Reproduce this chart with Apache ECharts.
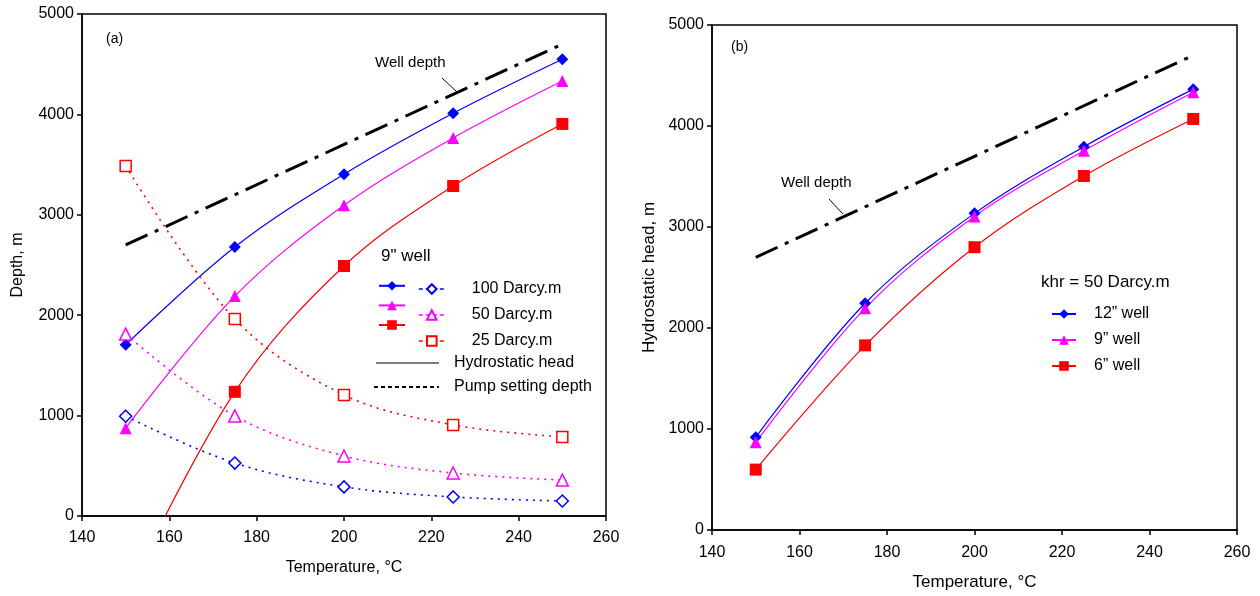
<!DOCTYPE html>
<html>
<head>
<meta charset="utf-8">
<script src="https://cdn.jsdelivr.net/npm/echarts@6/dist/echarts.min.js"></script>
<style>
    html, body {margin: 0; padding: 0; background: #fff;}
    #chart {width: 1260px; height: 596px;}
</style>
</head>
<body>
<div id="chart"></div>
<script>
// temperatures (°C) at which the points were computed
var temps = [150, 175, 200, 225, 250];
var wellTemps = [150, 250];

// panel (a): 9" well, hydrostatic head (solid) and pump setting depth (dotted)
var head100 = [1705, 2680, 3405, 4012, 4550];
var head50 = [875, 2190, 3095, 3765, 4332];
var head25 = [-800, 1237, 2490, 3287, 3905];
var pump100 = [993, 527, 290, 190, 150];
var pump50 = [1812, 997, 598, 428, 358];
var pump25 = [3486, 1962, 1206, 907, 788];
var wellDepthA = [2700, 4700];

// panel (b): khr = 50 Darcy.m, hydrostatic head per well size
var head12in = [918, 2245, 3135, 3795, 4365];
var head9in = [868, 2195, 3105, 3755, 4335];
var head6in = [598, 1828, 2800, 3505, 4070];
var wellDepthB = [2700, 4700];

var xTicks = {min: 140, max: 260, interval: 20};
var yTicks = {min: 0, max: 5000, interval: 1000};

var FONT = 'Liberation Sans';
var BLUE = '#0000ff', MAGENTA = '#ff00ff', RED = '#ff0000';
var DIAMOND = 'path://M0,-1L1,0L0,1L-1,0Z';

function pairs(xs, ys) {
    var out = [];
    for (var i = 0; i < xs.length; i++) {
        out.push([xs[i], ys[i]]);
    }
    return out;
}

function plain(v) {
    return String(v);
}

function xAxis(idx, fs, nameFs, margin) {
    return {
        type: 'value', gridIndex: idx,
        min: xTicks.min, max: xTicks.max, interval: xTicks.interval,
        name: 'Temperature, °C', nameLocation: 'middle', nameGap: 44,
        nameTextStyle: {fontFamily: FONT, fontSize: nameFs, color: '#000'},
        axisLine: {onZero: false, lineStyle: {color: '#000', width: 1.5}},
        axisTick: {inside: false, length: 5, lineStyle: {color: '#000', width: 1.5}},
        axisLabel: {fontFamily: FONT, fontSize: fs, color: '#000', margin: margin, formatter: plain},
        splitLine: {show: false}
    };
}

function yAxis(idx, name, fs, nameFs, gap) {
    return {
        type: 'value', gridIndex: idx,
        min: yTicks.min, max: yTicks.max, interval: yTicks.interval,
        name: name, nameLocation: 'middle', nameGap: gap,
        nameTextStyle: {fontFamily: FONT, fontSize: nameFs, color: '#000'},
        axisLine: {onZero: false, lineStyle: {color: '#000', width: 1.5}},
        axisTick: {inside: false, length: 5, lineStyle: {color: '#000', width: 1.5}},
        axisLabel: {fontFamily: FONT, fontSize: fs, color: '#000', margin: 8, formatter: plain},
        splitLine: {show: false}
    };
}

//实线 / 点线 series
function curve(name, idx, xs, ys, color, symbol, size, dotted) {
    return {
        name: name, type: 'line', xAxisIndex: idx, yAxisIndex: idx,
        data: pairs(xs, ys), smooth: 0.35, clip: true,
        symbol: symbol, symbolSize: size, showAllSymbol: true,
        lineStyle: {color: color, width: dotted ? 1.6 : 1.2, type: dotted ? [2, 5] : 'solid'},
        itemStyle: {color: dotted ? '#fff' : color, borderColor: color, borderWidth: dotted ? 1.5 : 0},
        emphasis: {disabled: true},
        z: 3
    };
}

function wellLine(idx, ys) {
    return {
        name: 'well' + idx, type: 'line', xAxisIndex: idx, yAxisIndex: idx,
        data: pairs(wellTemps, ys), symbol: 'none',
        lineStyle: {color: '#000', width: 3, type: [24, 8, 4, 8]},
        emphasis: {disabled: true},
        z: 2
    };
}

var labelMap = {
    p100: '100 Darcy.m', p50: '50 Darcy.m', p25: '25 Darcy.m',
    b12: '12” well', b9: '9” well', b6: '6” well'
};

var chart = echarts.init(document.getElementById('chart'));

var option = {
    animation: false,
    grid: [
        {left: 82, top: 14, right: 654, bottom: 80, show: true, borderColor: '#000', borderWidth: 1.5},
        {left: 712, top: 25, right: 23, bottom: 66, show: true, borderColor: '#000', borderWidth: 1.5}
    ],
    xAxis: [xAxis(0, 16, 16, 14), xAxis(1, 16, 17, 15)],
    yAxis: [yAxis(0, 'Depth, m', 16, 16, 56), yAxis(1, 'Hydrostatic head, m', 16, 17, 54)],
    legend: [
        {
            left: 373, top: 276, orient: 'vertical', itemWidth: 26, itemHeight: 12, itemGap: 10,
            data: ['h100', 'h50', 'h25'], selectedMode: false,
            formatter: function () { return ''; },
            textStyle: {lineHeight: 12, fontSize: 16}
        },
        {
            left: 413, top: 276, orient: 'vertical', itemWidth: 26, itemHeight: 12, itemGap: 10,
            data: ['p100', 'p50', 'p25'], selectedMode: false,
            lineStyle: {type: [4, 3], width: 1.6},
            formatter: function (n) { return labelMap[n]; },
            textStyle: {fontFamily: FONT, fontSize: 16, color: '#000', lineHeight: 12, padding: [0, 0, 0, 22]}
        },
        {
            left: 1046, top: 301, orient: 'vertical', itemWidth: 24, itemHeight: 12, itemGap: 10,
            data: ['b12', 'b9', 'b6'], selectedMode: false,
            formatter: function (n) { return labelMap[n]; },
            textStyle: {fontFamily: FONT, fontSize: 16, color: '#000', lineHeight: 12, padding: [0, 0, 0, 13]}
        }
    ],
    series: [
        wellLine(0, wellDepthA),
        curve('h100', 0, temps, head100, BLUE, DIAMOND, 12, false),
        curve('h50', 0, temps, head50, MAGENTA, 'triangle', 12, false),
        curve('h25', 0, temps, head25, RED, 'rect', 12, false),
        curve('p100', 0, temps, pump100, BLUE, DIAMOND, 12, true),
        curve('p50', 0, temps, pump50, MAGENTA, 'triangle', 12, true),
        curve('p25', 0, temps, pump25, RED, 'rect', 11, true),
        wellLine(1, wellDepthB),
        curve('b12', 1, temps, head12in, BLUE, DIAMOND, 12, false),
        curve('b9', 1, temps, head9in, MAGENTA, 'triangle', 12, false),
        curve('b6', 1, temps, head6in, RED, 'rect', 12, false)
    ],
    graphic: [
        {type: 'text', left: 106, top: 32, style: {text: '(a)', font: '14px "Liberation Sans"', fill: '#000'}},
        {type: 'text', left: 731, top: 40, style: {text: '(b)', font: '14px "Liberation Sans"', fill: '#000'}},
        {type: 'text', left: 375, top: 55, style: {text: 'Well depth', font: '15px "Liberation Sans"', fill: '#000'}},
        {type: 'line', shape: {x1: 442, y1: 78, x2: 457, y2: 92}, style: {stroke: '#000', lineWidth: 1}},
        {type: 'text', left: 781, top: 175, style: {text: 'Well depth', font: '15px "Liberation Sans"', fill: '#000'}},
        {type: 'line', shape: {x1: 829, y1: 199, x2: 843, y2: 214}, style: {stroke: '#000', lineWidth: 1}},
        // legend (a) 标题与线型说明
        {type: 'text', left: 381, top: 248, style: {text: '9" well', font: '17px "Liberation Sans"', fill: '#000'}},
        {type: 'line', shape: {x1: 376, y1: 363, x2: 439, y2: 363}, style: {stroke: '#000', lineWidth: 1.2}},
        {type: 'text', left: 454, top: 355, style: {text: 'Hydrostatic head', font: '16px "Liberation Sans"', fill: '#000'}},
        {type: 'line', shape: {x1: 374, y1: 387, x2: 439, y2: 387}, style: {stroke: '#000', lineWidth: 2, lineDash: [4, 3]}},
        {type: 'text', left: 454, top: 379, style: {text: 'Pump setting depth', font: '16px "Liberation Sans"', fill: '#000'}},
        // legend (b) 标题
        {type: 'text', left: 1041, top: 274, style: {text: 'khr = 50 Darcy.m', font: '17px "Liberation Sans"', fill: '#000'}}
    ]
};
chart.setOption(option);
</script>
</body>
</html>
